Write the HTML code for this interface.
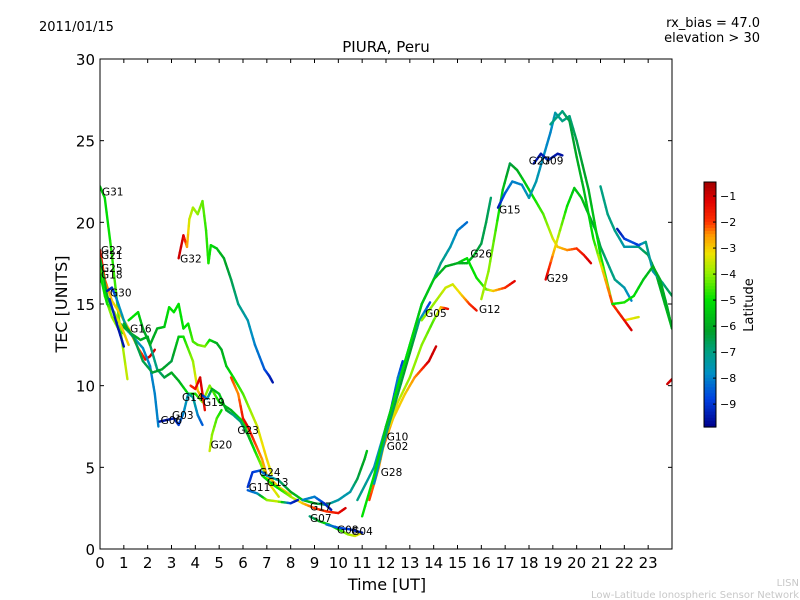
<!DOCTYPE html>
<html><head><meta charset="utf-8"><style>
body{margin:0;background:#fff;}
svg{display:block;font-family:"DejaVu Sans","Liberation Sans",sans-serif;}
</style></head><body>
<svg id="chart" width="800" height="600" viewBox="0 0 800 600">
<text x="39" y="31" font-size="13">2011/01/15</text>
<text x="760" y="27" font-size="13" text-anchor="end">rx_bias = 47.0</text>
<text x="760" y="42" font-size="13" text-anchor="end">elevation &gt; 30</text>
<text x="386" y="52" font-size="15" text-anchor="middle">PIURA, Peru</text>
<text x="387" y="590" font-size="16" text-anchor="middle">Time [UT]</text>
<text transform="translate(67,304) rotate(-90)" font-size="16" text-anchor="middle">TEC [UNITS]</text>
<text transform="translate(753,305) rotate(-90)" font-size="13" text-anchor="middle">Latitude</text>
<text x="799" y="586" font-size="10" fill="#c8c8c8" text-anchor="end">LISN</text>
<text x="799" y="598" font-size="10" fill="#c8c8c8" text-anchor="end">Low-Latitude Ionospheric Sensor Network</text>
<g id="marks"></g>
<g id="axes"></g>
</svg>
<script>
const xTicks=[0,1,2,3,4,5,6,7,8,9,10,11,12,13,14,15,16,17,18,19,20,21,22,23];
const yTicks=[0,5,10,15,20,25,30];
const cbTicks=[-1,-2,-3,-4,-5,-6,-7,-8,-9];
const latMin=-9.88, latMax=-0.46;
// tracks: [time, TEC, latitude]
const tG31=[[0,22.2,-5.5],[0.2,21.5,-5.2],[0.5,18,-4.8],[0.8,14,-4.3],[1.15,10.4,-3.5]];
const tG22=[[0,18.3,-1.5],[0.2,16.5,-2],[0.5,15.2,-3],[0.8,14.5,-3],[1.2,13.5,-3],[1.6,12.3,-2.5],[1.9,11.6,-1.5],[2.1,11.8,-1],[2.3,12.2,-1]];
const tG21=[[0,17.8,-6],[0.3,15.5,-6],[0.7,14,-6.5],[1.2,13.3,-6],[1.7,12.8,-6],[2.0,13,-6],[2.2,12,-7],[2.4,11,-7],[2.7,10.5,-6.5],[3.0,10.8,-6],[3.3,10.3,-6],[3.7,9.5,-5],[4.0,9.5,-5],[4.3,9.0,-4],[4.6,10,-4],[5,9,-5],[5.5,8.5,-6],[6,7.8,-5],[6.5,6,-4],[7,4.5,-3],[7.5,3.8,-3],[8,3.3,-3]];
const tG18=[[0,17.2,-4.5],[0.2,15.5,-4.5],[0.5,14.2,-4],[0.8,13.4,-4],[1.0,13.2,-5]];
const tG25=[[0,16.8,-5],[0.3,15,-5],[0.6,14.5,-4],[0.9,13.6,-3],[1.2,12.5,-3]];
const tG30=[[0.3,15.8,-9.5],[0.5,16.0,-9.3],[0.7,15.3,-8],[1.0,14,-7.5],[1.2,13.3,-7.5],[1.5,12.8,-7.5],[1.8,12.3,-7.8],[2.1,11.2,-8],[2.3,9.5,-8],[2.45,7.5,-8]];
const tG30b=[[0.4,15.3,-9],[0.7,13.8,-9.5],[1.0,12.4,-9.5]];
const tG16=[[1.2,14,-5],[1.6,14.5,-5],[1.8,13.5,-6],[2.1,12.5,-6],[2.4,13.5,-6],[2.7,13.6,-5.5],[2.9,14.8,-5],[3.1,14.5,-5],[3.3,15,-5],[3.5,13.5,-5],[3.7,13.8,-5],[3.9,12.7,-4.5],[4.1,12.5,-4.5],[4.4,12.4,-4],[4.6,12.8,-5],[4.9,12.6,-6],[5.1,12.2,-6],[5.3,11.2,-5.5],[5.6,10.5,-5],[6,9.5,-4.5],[6.3,8.5,-4],[6.6,7.5,-3.5],[7.0,5.5,-3],[7.2,4.6,-3.5]];
const tG16b=[[1.0,13.8,-5.8],[1.4,13,-6.5],[1.8,11.5,-6.5],[2.2,10.8,-6.5],[2.6,11,-6],[3,11.5,-6.5],[3.3,13,-5.5],[3.5,13,-5],[3.9,11.5,-4],[4.1,9.7,-3],[4.3,9.2,-2]];
const tG03=[[2.5,7.8,-9.5],[2.8,7.9,-9.5],[3.1,8,-9.3],[3.3,7.6,-9],[3.5,8.3,-8],[3.7,9.5,-7.5],[3.9,9.3,-7],[4.1,8.2,-8],[4.3,7.6,-8.5]];
const tG14=[[3.8,10,-2],[4.0,9.8,-1.5],[4.2,10.5,-1],[4.4,8.5,-1.5]];
const tG19=[[4.3,9.4,-9.5],[4.5,9.2,-8],[4.7,9.8,-6],[5,9.5,-5.5],[5.3,8.5,-6],[5.6,8.2,-7],[5.9,7.8,-7],[6.2,7,-6],[6.5,6,-5],[6.8,5,-4],[7,4.5,-4]];
const tG20=[[4.6,6,-3.5],[4.7,7,-4],[4.9,8,-4.5],[5.1,8.5,-5]];
const tG23=[[5.5,10.5,-2],[5.8,9.5,-2.5],[6,8,-1.5],[6.2,7.5,-1.2],[6.5,6.5,-2],[6.8,5.5,-2.5],[7.1,4,-3],[7.5,3.2,-3.5]];
const tG32=[[3.3,17.8,-1],[3.5,19.2,-1],[3.65,18.5,-2.5],[3.75,20.2,-3.5],[3.9,20.9,-3.8],[4.1,20.5,-4],[4.3,21.3,-4.3],[4.45,19.5,-4.7],[4.55,17.5,-4.8],[4.65,18.6,-5],[4.9,18.4,-5.5],[5.2,17.8,-6],[5.5,16.5,-6.5],[5.8,15,-7],[6.2,14,-7.5],[6.5,12.5,-8],[6.9,11,-8.5],[7.1,10.6,-9.2],[7.25,10.2,-9.5]];
const tG24=[[6.2,3.8,-9],[6.4,4.7,-9],[6.7,4.8,-8.5],[7,4.5,-8],[7.5,4.2,-7],[8,3.5,-6],[8.5,3,-5.5],[9,2.8,-6],[9.5,2.7,-7],[10,3.0,-7.5],[10.5,3.5,-7.5],[10.8,4.3,-6.5],[11.1,5.5,-6],[11.2,6,-5.5]];
const tG13=[[6.8,4.5,-5],[7.2,4.0,-5],[7.5,3.7,-5],[8,3.2,-4],[8.5,2.8,-3],[9,2.5,-2],[9.5,2.3,-2],[10,2.2,-1.5],[10.3,2.5,-1]];
const tG11=[[6.2,3.6,-8.5],[6.6,3.4,-8],[7,3,-4],[7.5,2.9,-3.5],[8,2.8,-9],[8.3,3.0,-9.5]];
const tG17=[[8.5,3,-8],[9,3.2,-8],[9.4,2.8,-9],[9.7,2.4,-9.5]];
const tG07=[[8.8,2,-7],[9.2,1.7,-6],[9.6,1.5,-5],[10,1.2,-5],[10.4,0.9,-4],[10.7,0.8,-3.5],[11.0,1.0,-3.2]];
const tG08=[[9.5,1.5,-8],[10,1.3,-8.5],[10.5,1.2,-9],[11,1.0,-9.5]];
const tG10=[[11.8,6,-9.5],[12.2,8.5,-9],[12.5,10.5,-8],[12.7,11.5,-9]];
const tG02=[[11.9,6.3,-2],[12.3,8,-3],[12.8,9.5,-3],[13.2,10.5,-2.5],[13.5,11,-2],[13.8,11.5,-1],[14.1,12.4,-1]];
const tG28=[[11.3,3,-2],[11.7,5,-2.5],[12,7,-3],[12.5,9,-3.5],[13,10.5,-4],[13.5,12.5,-4],[14,14,-4.5],[14.3,14.8,-3],[14.6,14.7,-1.2]];
const tG05=[[11.5,4,-8],[12,7,-7],[12.5,9.5,-6.5],[13,12,-6],[13.4,14,-7],[13.85,15.1,-9]];
const tCyan=[[10.8,3,-7],[11.5,5,-7.5],[12,7.5,-8],[12.5,10,-8],[13,12.5,-8],[13.5,15,-7.5],[14,16.5,-7],[14.3,17.5,-7],[14.7,18.5,-7.5],[15,19.5,-8],[15.4,20,-8.3]];
const tGreen=[[11,2,-5],[11.5,4.5,-5],[12,7.5,-5.5],[12.5,10,-5],[13,12.5,-5],[13.5,15,-5.5],[14,16.5,-5.5],[14.5,17.3,-6],[15,17.5,-6],[15.4,17.5,-5.8],[15.7,18,-6],[16,18.7,-6.5],[16.2,20,-6.5],[16.4,21.5,-6.8]];
const tG12=[[13.5,14,-4],[14,15,-4],[14.5,16,-3.5],[14.8,16.2,-3.5],[15.2,15.5,-3],[15.5,15,-2],[15.8,14.6,-1.5]];
const tG26=[[15.0,17.5,-6],[15.4,17.8,-5],[15.8,16.6,-5],[16.2,15.9,-4.5],[16.5,15.8,-3],[17,16,-2],[17.4,16.4,-1.2]];
const tRise=[[16,15.3,-3.8],[16.3,17,-4],[16.6,19.5,-4.5],[16.9,22,-5.5],[17.2,23.6,-6.5],[17.5,23.2,-6],[17.8,22.5,-5.5],[18.2,21.5,-5],[18.6,20.5,-4.5],[19,19,-3.5],[19.2,18.5,-3],[19.6,18.3,-2.5],[20,18.4,-2],[20.3,18,-1.5],[20.6,17.5,-1]];
const tG29=[[18.7,16.5,-1],[19,18,-2.5],[19.3,19.5,-4],[19.6,21,-5],[19.9,22.1,-5.5],[20.2,21.5,-5.5],[20.5,20.5,-6],[20.8,19.5,-6.5],[21,18.5,-6.5],[21.3,17.5,-7],[21.6,16.5,-7],[22,16,-7.5],[22.3,15.2,-8]];
const tG15=[[16.7,20.9,-9.5],[17,21.8,-8.5],[17.3,22.5,-8],[17.7,22.3,-8],[18,21.5,-7.5],[18.3,22.5,-7.5],[18.6,24,-7.8],[18.9,25.5,-8],[19.1,26.7,-7.5],[19.4,26.2,-7],[19.7,26.5,-7],[20,25,-6.5],[20.5,22,-6],[21,18,-5],[21.5,15,-4],[22,14,-3],[22.6,14.2,-3.5]];
const tG09=[[18.2,23.6,-9.5],[18.5,24.2,-9.5],[18.8,23.8,-9.2],[19.2,24.2,-9.5],[19.4,24.1,-9.6]];
const tPeak=[[18.9,26,-7],[19.4,26.8,-7],[19.7,26.2,-6.5],[20,24,-6],[20.3,22,-5.8],[20.7,19,-5],[21.1,17,-3],[21.5,15,-2],[22,14,-1.5],[22.3,13.4,-1]];
const tR1=[[21,22.2,-7],[21.3,20.5,-7],[21.6,19.5,-7],[22,18.5,-7.5],[22.3,18.5,-7.5],[22.6,18.5,-7],[23,18,-6.5],[23.3,17,-6],[23.6,15.5,-6],[24,13.5,-5.5]];
const tR2=[[21.7,19.6,-9.5],[22,19,-9],[22.3,18.8,-8.5],[22.6,18.6,-9],[22.9,18.8,-7],[23.2,17,-7.5],[23.6,16.3,-7],[24,15.5,-6.5]];
const tR3=[[21.5,15,-5],[22,15.1,-4.8],[22.4,15.5,-5],[22.8,16.5,-5.5],[23.2,17.3,-6],[23.5,16.5,-6],[23.8,14.8,-6],[24,13.5,-6]];
const tR4=[[23.8,10.1,-1],[24,10.4,-1]];
const tracks=[tG31,tG22,tG21,tG18,tG25,tG30,tG30b,tG16,tG16b,tG03,tG14,tG19,tG20,tG23,tG32,tG24,tG13,tG11,tG17,tG07,tG08,tG10,tG02,tG28,tG05,tCyan,tGreen,tG12,tG26,tRise,tG29,tG15,tG09,tPeak,tR1,tR2,tR3,tR4];
const labelNames=["G31","G22","G21","G25","G18","G30","G16","G32","G14","G19","G03","G06","G20","G23","G24","G13","G11","G17","G07","G08","G04","G10","G02","G28","G05","G12","G26","G15","G27","G09","G29"];
const labelT=[0.04,0,0,0,0,0.38,1.22,3.32,3.4,4.28,2.98,2.5,4.6,5.72,6.63,6.96,6.2,8.77,8.77,9.9,10.5,11.99,11.99,11.74,13.6,15.86,15.5,16.7,17.95,18.5,18.7];
const labelV=[21.9,18.3,18.0,17.2,16.8,15.7,13.5,17.8,9.3,9.0,8.2,7.9,6.4,7.3,4.7,4.1,3.8,2.6,1.9,1.2,1.1,6.9,6.3,4.7,14.45,14.7,18.1,20.8,23.8,23.8,16.6];
// colormap stops (latitude -> colour)
const cmapLat=[-0.46,-1.2,-2,-2.5,-3.2,-4,-5,-6.2,-7,-7.8,-8.8,-9.88];
const cmapCol=[[160,0,0],[225,0,0],[255,50,0],[255,150,0],[240,225,0],[145,240,0],[0,225,0],[0,160,40],[0,160,130],[0,145,195],[0,65,225],[0,0,140]];

const X0=100,X1=672,Y0=549,Y1=59;
const xs=t=>X0+t/24*(X1-X0);
const ys=v=>Y0-v/30*(Y0-Y1);
const CB={x:704,w:12,top:182,bot:427};
const cbY=l=>CB.top+(latMax-l)/(latMax-latMin)*(CB.bot-CB.top);
function latColor(l){
  if(l>=cmapLat[0])return `rgb(${cmapCol[0].join(',')})`;
  for(let i=0;i<cmapLat.length-1;i++){
    if(l<=cmapLat[i]&&l>=cmapLat[i+1]){
      const f=(cmapLat[i]-l)/(cmapLat[i]-cmapLat[i+1]);
      const c=cmapCol[i].map((v,k)=>Math.round(v+(cmapCol[i+1][k]-v)*f));
      return `rgb(${c.join(',')})`;
    }
  }
  return `rgb(${cmapCol[cmapCol.length-1].join(',')})`;
}
const NS="http://www.w3.org/2000/svg";
const marks=document.getElementById('marks'),axes=document.getElementById('axes');
function mk(tag,attrs,parent){const e=document.createElementNS(NS,tag);for(const k in attrs)e.setAttribute(k,attrs[k]);parent.appendChild(e);return e;}

const defs=mk('defs',{},marks);const cp=mk('clipPath',{id:'pc'},defs);
mk('rect',{x:X0,y:Y1,width:X1-X0,height:Y0-Y1},cp);
const plot=mk('g',{'clip-path':'url(#pc)'},marks);


tracks.forEach((tr,i)=>{
  const g=mk('g',{},plot);
  
  
  for(let j=0;j<tr.length-1;j++){
    const a=tr[j],b=tr[j+1];
    const n=4;
    for(let k=0;k<n;k++){
      const f0=k/n,f1=(k+1)/n,fm=(k+0.5)/n;
      const seg=mk('line',{x1:xs(a[0]+(b[0]-a[0])*f0),y1:ys(a[1]+(b[1]-a[1])*f0),x2:xs(a[0]+(b[0]-a[0])*f1),y2:ys(a[1]+(b[1]-a[1])*f1),stroke:latColor(a[2]+(b[2]-a[2])*fm),'stroke-width':2.4,'stroke-linecap':'round'},g);
      
      
    }
  }
});
labelNames.forEach((nm,i)=>{
  const t=mk('text',{x:xs(labelT[i])+1,y:ys(labelV[i])+4,'font-size':10.5},marks);
  t.textContent=nm;
  
  
});

const fr=mk('rect',{x:X0,y:Y1,width:X1-X0,height:Y0-Y1,fill:'none',stroke:'#000','stroke-width':1},axes);


xTicks.forEach(t=>{
  const x=xs(t);
  mk('line',{x1:x,y1:Y0,x2:x,y2:Y0-4,stroke:'#000'},axes);
  mk('line',{x1:x,y1:Y1,x2:x,y2:Y1+4,stroke:'#000'},axes);
  const l=mk('text',{x:x,y:Y0+19,'font-size':15,'text-anchor':'middle'},axes);
  l.textContent=t;
  
  
});
yTicks.forEach(v=>{
  const y=ys(v);
  mk('line',{x1:X0,y1:y,x2:X0+4,y2:y,stroke:'#000'},axes);
  mk('line',{x1:X1,y1:y,x2:X1-4,y2:y,stroke:'#000'},axes);
  const l=mk('text',{x:X0-5,y:y+6,'font-size':15,'text-anchor':'end'},axes);
  l.textContent=v;
  
  
});
const cb=mk('g',{},axes);


const steps=80;
for(let i=0;i<steps;i++){
  const y0=CB.top+i*(CB.bot-CB.top)/steps;
  const lat=latMax-(i+0.5)/steps*(latMax-latMin);
  mk('rect',{x:CB.x,y:y0,width:CB.w,height:(CB.bot-CB.top)/steps+0.6,fill:latColor(lat)},cb);
}
mk('rect',{x:CB.x,y:CB.top,width:CB.w,height:CB.bot-CB.top,fill:'none',stroke:'#000'},cb);
cbTicks.forEach(l=>{
  const y=cbY(l);
  mk('line',{x1:CB.x+CB.w-3,y1:y,x2:CB.x+CB.w,y2:y,stroke:'#000'},cb);
  const t=mk('text',{x:CB.x+CB.w+4,y:y+4,'font-size':11},cb);
  t.textContent='\u2212'+(-l);
  
  
});
</script>
</body></html>
